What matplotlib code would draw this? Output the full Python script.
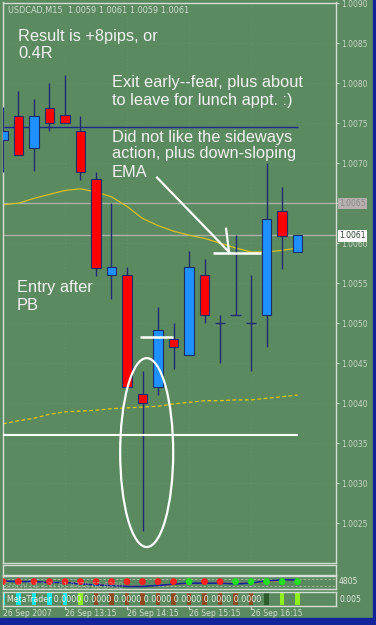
import matplotlib.pyplot as plt
import numpy as np
from matplotlib.patches import Ellipse, Rectangle

# candles (15 min, 26 Sep 2007 from 12:15)
opens  = [1.00729, 1.00759, 1.00719, 1.00769, 1.0076, 1.0074, 1.0068, 1.0056, 1.0056, 1.00411,
          1.0042, 1.0048, 1.0046, 1.0056, 1.0050, 1.0051, 1.0050, 1.0051, 1.0064, 1.00589]
highs  = [1.0077, 1.0079, 1.0078, 1.0080, 1.0081, 1.00759, 1.00689, 1.0065, 1.0057, 1.0044,
          1.0052, 1.0050, 1.0059, 1.0058, 1.0051, 1.0061, 1.0056, 1.0070, 1.0067, 1.0061]
lows   = [1.00689, 1.0071, 1.0069, 1.0074, 1.0075, 1.00679, 1.00559, 1.0053, 1.0042, 1.0024,
          1.0041, 1.00443, 1.0046, 1.0050, 1.0045, 1.0051, 1.0044, 1.0047, 1.00568, 1.00589]
closes = [1.0074, 1.0071, 1.00759, 1.0075, 1.0075, 1.00689, 1.00569, 1.0057, 1.0042, 1.0040,
          1.00491, 1.0047, 1.0057, 1.0051, 1.0050, 1.0051, 1.0050, 1.0063, 1.00609, 1.0061]

ema_fast = [1.00648, 1.00650, 1.00656, 1.00661, 1.00666, 1.00668, 1.00664, 1.00658, 1.00646, 1.00631,
            1.00622, 1.00615, 1.00610, 1.00606, 1.00600, 1.00594, 1.00589, 1.00589, 1.00591, 1.00594]
ema_slow = [1.00374, 1.00378, 1.00381, 1.00386, 1.00389, 1.00390, 1.00391, 1.00393, 1.00394, 1.00395,
            1.00396, 1.00399, 1.00401, 1.00403, 1.00403, 1.00404, 1.00404, 1.00406, 1.00408, 1.00410]

# stochastic-like sub panel
stoch_main = [62, 57, 57, 50, 50, 40, 32, 27, 20, 20, 27, 37, 45, 45, 45, 40, 45, 62, 70, 70]
stoch_sig  = [60, 58, 57, 52, 48, 42, 35, 30, 24, 22, 25, 33, 42, 46, 46, 44, 44, 55, 65, 72]
dot_cols = ['r'] * 12 + ['g', 'r', 'r'] + ['g'] * 5
bar_cols = ['c'] * 5 + ['l'] + ['b'] * 11 + ['d', 'l', 'l']

time_labels = ['26 Sep 2007', '26 Sep 13:15', '26 Sep 14:15', '26 Sep 15:15', '26 Sep 16:15']
time_idx = [0, 4, 8, 12, 16]

level_navy = 1.00745
level_white = 1.0036
level_gray = 1.0065
level_bid = 1.0061

W, H = 376, 625
BG = '#5b8a60'
FRAME = '#d4ddd4'
TXT = '#f2f2f2'


def box(x0, y0, x1, y1):
    return [x0 / W, 1 - y1 / H, (x1 - x0) / W, (y1 - y0) / H]


fig = plt.figure(figsize=(W / 100, H / 100), dpi=100, facecolor=BG)
fig.patches.append(Rectangle((373 / W, 0), 3 / W, 1, transform=fig.transFigure, color='#13239a'))
fig.patches.append(Rectangle((0, 0), 1, 7 / H, transform=fig.transFigure, color='#13239a'))

ax = fig.add_axes(box(2.5, 2.5, 336, 563))
ax.set_facecolor(BG)
n = len(opens)
x = np.arange(n)
ax.set_xlim(-0.03, 21.48)
ax.set_ylim(1.0020, 1.00901)

yt = np.arange(1.0025, 1.00905, 0.0005)
ax.set_yticks(yt)
# the 1.0065 label sits under the grey price box, as on the screen
ax.set_yticklabels(['' if abs(v - level_gray) < 1e-6 else '%.4f' % v for v in yt])
ax.yaxis.tick_right()
ax.tick_params(axis='y', colors='#c8d4c8', labelsize=5.5, length=2, pad=1.5)
ax.set_xticks([])
for s in ax.spines.values():
    s.set_color(FRAME)
    s.set_linewidth(1)
for v in yt:
    ax.axhline(v, color='#6c9e6c', lw=0.5, ls=(0, (1, 4)), zorder=0)
for i in time_idx[1:]:
    ax.axvline(i, color='#6c9e6c', lw=0.5, ls=(0, (1, 4)), zorder=0)

# reference lines
ax.axhline(level_gray, color='#a8b0a8', lw=1, zorder=1)
ax.axhline(level_bid, color='#a8b0a8', lw=1, zorder=1)
ax.hlines(level_navy, -0.03, 19.03, color='#1c2a8c', lw=1, zorder=1)

# moving averages
ax.plot(x, ema_fast, color='#d8c020', lw=0.9, zorder=2)
ax.plot(x, ema_slow, color='#e8c800', lw=0.9, ls=(0, (3, 2)), zorder=2)

# candles
bw = 0.62
for i in range(n):
    o, h, l, c = opens[i], highs[i], lows[i], closes[i]
    if h > l:
        ax.vlines(i, l, h, color='#1e2c74', lw=1, zorder=3)
    if abs(c - o) < 1e-7:
        ax.hlines(o, i - 0.35, i + 0.35, color='#1e2c74', lw=1, zorder=4)
    else:
        col = '#1e90ff' if c > o else '#ff0000'
        ax.bar(i, abs(c - o), bottom=min(o, c), width=bw, color=col,
               edgecolor='#1a2f6a', lw=0.8, zorder=4)

# white drawings
ax.hlines(level_white, -0.03, 19.03, color='white', lw=1.5, zorder=5)
ax.hlines(1.00483, 8.84, 10.97, color='white', lw=1.8, zorder=5)
ax.hlines(1.00588, 13.55, 16.65, color='white', lw=1.8, zorder=5)
ax.plot([9.94, 14.58], [1.00682, 1.00589], color='white', lw=1.6, zorder=5)
ax.plot([14.39, 14.58], [1.00618, 1.00589], color='white', lw=1.6, zorder=5)
ax.add_patch(Ellipse((9.27, 1.003381), 3.42, 0.0023625, fill=False,
                     edgecolor='white', lw=1.6, zorder=6))

# price boxes on the axis
fig.text(339 / W, 1 - 203.5 / H, '1.0065', fontsize=5.5, color='#8a8a8a', va='center',
         bbox=dict(boxstyle='square,pad=0.15', fc='#b8b0b0', ec='none'))
fig.text(339 / W, 1 - 236 / H, '1.0061', fontsize=5.5, color='#304030', va='center',
         bbox=dict(boxstyle='square,pad=0.15', fc='white', ec='none'))

# texts
fig.text(8 / W, 1 - 11 / H, 'USDCAD,M15  1.0059 1.0061 1.0059 1.0061', fontsize=5.9,
         color='#d0dcd0', va='center')
notes = [(18, 36, 'Result is +8pips, or'), (18, 54, '0.4R'),
         (112, 82, 'Exit early--fear, plus about'), (112, 100, 'to leave for lunch appt. :)'),
         (112, 137, 'Did not like the sideways'), (112, 154, 'action, plus down-sloping'),
         (112, 173, 'EMA'), (17, 287, 'Entry after'), (17, 305, 'PB')]
for nx, ny, t in notes:
    fig.text(nx / W, 1 - ny / H, t, fontsize=11.8, color=TXT, va='center',
             family=['Liberation Sans', 'DejaVu Sans'])

# empty panel
ax0 = fig.add_axes(box(2.5, 565, 336, 575))
# stoch panel
ax1 = fig.add_axes(box(2.5, 576, 336, 589))
# bars panel
ax2 = fig.add_axes(box(2.5, 592, 336, 606))
for a in (ax0, ax1, ax2):
    a.set_facecolor(BG)
    a.set_xlim(-0.03, 21.48)
    a.set_xticks([])
    a.set_yticks([])
    for s in a.spines.values():
        s.set_color(FRAME)
        s.set_linewidth(1)

ax1.set_ylim(0, 100)
for lv in (80, 20):
    ax1.axhline(lv, color='#b0bcb0', lw=0.6, ls=(0, (3, 2)))
ax1.plot(x, stoch_sig, color='#e0a020', lw=0.9)
ax1.plot(x, stoch_main, color='#1020a0', lw=1.2)
dmap = {'r': '#ff2020', 'g': '#20e020'}
ax1.scatter(x, [57] * n, s=24, c=[dmap[d] for d in dot_cols], zorder=4, lw=0)
fig.text(4 / W, 1 - 586 / H, 'Stoch(14,3,3) 61.8378 62.6330', fontsize=5.5,
         color='#b8c4b8', alpha=0.6, va='center')
fig.text(339 / W, 1 - 582 / H, '4805', fontsize=5.5, color='#e0e8e0', va='center')

ax2.set_ylim(0, 1)
bmap = {'c': '#00e8f0', 'l': '#90f020', 'b': '#8b4a20', 'd': '#2c5c2c'}
ax2.bar(x, 0.8, bottom=0.1, width=0.28, color=[bmap[b] for b in bar_cols])
fig.text(7 / W, 1 - 600 / H, 'MetaTrader 0.0000 0.0000 0.0000 0.0000 0.0000 0.0000 0.0000',
         fontsize=5.7, color='#e8ece8', va='center')
fig.text(339 / W, 1 - 599 / H, '0.005', fontsize=5.5, color='#e0e8e0', va='center')

# time axis
for i, lab in zip(time_idx, time_labels):
    px = 3 + 15.5 * i
    fig.add_artist(plt.Line2D([px / W, px / W], [1 - 606 / H, 1 - 609 / H],
                              transform=fig.transFigure, color='#d0dcd0', lw=0.8))
    fig.text(px / W, 1 - 614 / H, lab, fontsize=5.6, color='#d0dcd0', va='center')

fig.savefig('out.png', dpi=100, facecolor=BG)
